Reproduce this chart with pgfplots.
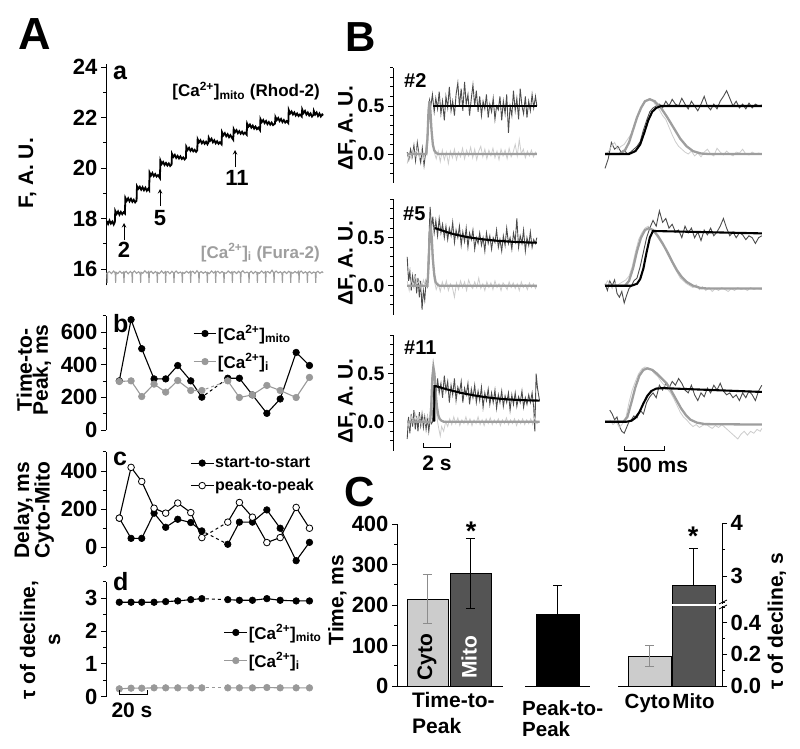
\documentclass[border=0pt]{standalone}
\usepackage{pgfplots}
\pgfplotsset{compat=1.18}
\usepackage{fontspec}
\setmainfont{Liberation Sans}
\newcommand{\fs}[1]{\fontsize{#1}{#1}\selectfont\bfseries}
\newcommand{\fsl}[2]{\fontsize{#1}{#2}\selectfont\bfseries}
\definecolor{cgray}{gray}{0.6}
\definecolor{fitgray}{gray}{0.62}
\definecolor{darktr}{gray}{0.3}
\definecolor{lighttr}{gray}{0.8}
\definecolor{lightbar}{gray}{0.8}
\definecolor{darkbar}{gray}{0.33}
\definecolor{furagray}{gray}{0.62}
\definecolor{errgray}{gray}{0.55}
\pgfplotsset{
  base/.style={scale only axis, tick align=outside, major tick length=5pt, minor tick length=3pt,
    every tick/.style={black, line width=0.9pt}, axis line style={line width=1pt, black},
    tick label style={font=\fs{22}}, /pgf/number format/assume math mode=true,
    xtick=\empty, xmin=0, xmax=157, width=220pt},
  Apanel/.style={base, axis x line=none, axis y line*=left, clip=false, anchor=south west},
  Bleft/.style={base, anchor=south west, axis x line=none, axis y line*=left, xmin=-1.05, xmax=9.85, width=147.2pt, height=115.2pt,
    ymin=-0.3, ymax=0.9, ytick={0,0.5}, minor ytick={-0.2,-0.1,0.1,0.2,0.3,0.4,0.6,0.7,0.8,0.9},
    tick label style={font=\fs{19.5}},
    yticklabel style={/pgf/number format/.cd, fixed, fixed zerofill, precision=1}, clip=false},
  Bright/.style={scale only axis, anchor=south west, axis lines=none, xmin=0, xmax=1960, width=156.8pt, height=115.2pt,
    ymin=-0.3, ymax=0.9, clip=false},
  dtr/.style={darktr, line width=0.9pt},
  ltr/.style={lighttr, line width=0.8pt},
  gfit/.style={fitgray, line width=2.3pt},
  bfit/.style={black, line width=2.1pt},
  blk/.style={black, line width=1.1pt, mark=*, mark size=3.3pt, mark options={solid, line width=0.6pt}},
  gry/.style={cgray, line width=1.1pt, mark=*, mark size=3.3pt, mark options={solid, line width=0.6pt}},
  opn/.style={black, line width=1.1pt, mark=*, mark size=3.3pt, mark options={solid, fill=white, line width=0.8pt}},
  dsh/.style={dashed, line width=1pt, forget plot, shorten >=4pt, shorten <=4pt},
  leg/.style 2 args={legend style={draw=none, fill=none, at={#1}, anchor=north west, font=\fs{17}, row sep=#2, inner sep=0pt, nodes={inner sep=1pt}}, legend cell align=left},
}
\begin{document}
\begin{tikzpicture}
\useasboundingbox (0,0) rectangle (800pt,-749pt);

% ---------------- A a
\begin{axis}[Apanel, at={(106pt,-285.4pt)}, height=221.4pt, ymin=15.35, ymax=24.12,
  ytick={16,18,20,22,24}, minor ytick={17,19,21,23}]
\addplot[furagray, line width=1.1pt] coordinates {
(0.5,15.86)(0.93,15.45)(1.23,15.86)(2.43,15.9)(3.93,15.82)(5.43,15.92)(6.58,15.84)
(6.88,15.45)(7.18,15.87)(8.38,15.82)(9.88,15.91)(11.38,15.83)(12.53,15.88)
(12.83,15.45)(13.13,15.85)(14.33,15.91)(15.83,15.81)(17.33,15.9)(18.48,15.84)
(18.78,15.45)(19.08,15.86)(20.28,15.92)(21.78,15.83)(23.28,15.89)(24.43,15.82)
(24.73,15.45)(25.03,15.87)(26.23,15.83)(27.73,15.93)(29.23,15.84)(30.38,15.9)
(30.68,15.45)(30.98,15.85)(32.18,15.91)(33.68,15.82)(35.18,15.9)(36.33,15.85)
(36.63,15.45)(36.93,15.86)(38.13,15.82)(39.63,15.92)(41.13,15.83)(42.28,15.89)
(42.58,15.45)(42.88,15.87)(44.08,15.9)(45.58,15.81)(47.08,15.91)(48.23,15.84)
(48.53,15.45)(48.83,15.85)(50.03,15.92)(51.53,15.83)(53.03,15.88)(54.18,15.82)
(54.48,15.45)(54.78,15.86)(55.98,15.83)(57.48,15.91)(58.98,15.84)(60.13,15.9)
(60.43,15.45)(60.73,15.87)(61.93,15.91)(63.43,15.82)(64.93,15.93)(66.08,15.85)
(66.38,15.45)(66.68,15.85)(67.88,15.9)(69.38,15.83)(70.88,15.89)(72.03,15.84)
(72.33,15.45)(72.63,15.86)(73.83,15.82)(75.33,15.92)(76.83,15.84)(77.98,15.9)
(78.28,15.45)(78.58,15.87)(79.78,15.91)(81.28,15.83)(82.78,15.9)(83.93,15.85)
(84.23,15.45)(84.53,15.85)(85.73,15.83)(87.23,15.92)(88.73,15.84)(89.88,15.89)
(90.18,15.45)(90.48,15.86)(91.68,15.9)(93.18,15.82)(94.68,15.91)(95.83,15.84)
(96.13,15.45)(96.43,15.87)(97.63,15.93)(99.13,15.84)(100.63,15.88)(101.78,15.83)
(102.08,15.45)(102.38,15.85)(103.58,15.91)(105.08,15.82)(106.58,15.9)(107.73,15.85)
(108.03,15.45)(108.33,15.86)(109.53,15.83)(111.03,15.92)(112.53,15.84)(113.68,15.89)
(113.98,15.45)(114.28,15.87)(115.48,15.9)(116.98,15.83)(118.48,15.95)(119.63,15.85)
(119.93,15.45)(120.23,15.86)(121.43,15.92)(122.93,15.84)(124.43,15.89)(125.58,15.83)
(125.88,15.45)(126.18,15.85)(127.38,15.9)(128.88,15.82)(130.38,15.91)(131.53,15.86)
(131.83,15.45)(132.13,15.87)(133.33,15.83)(134.83,15.9)(136.33,15.84)(137.48,15.91)
(137.78,15.45)(138.08,15.86)(139.28,15.92)(140.78,15.83)(142.28,15.89)(143.43,15.84)
(143.73,15.45)(144.03,15.85)(145.23,15.9)(146.73,15.82)(148.23,15.88)(149.38,15.85)
(149.68,15.45)(149.98,15.86)(151.18,15.91)(152.68,15.83)(154.18,15.89)(155,15.85)};
\addplot[black, line width=1.8pt] coordinates {
(0.5,17.9)(1.5,17.78)(2.5,17.92)(3.5,17.8)(4.5,17.88)(5.5,17.76)(6.3,17.85)
(6.6,18.3)(7.6,18.18)(8.6,18.28)(9.6,18.15)(10.6,18.26)(11.6,18.17)(12.6,18.25)(13.5,18.2)
(13.8,18.82)(14.8,18.7)(15.8,18.8)(16.8,18.68)(17.8,18.78)(18.8,18.66)(19.8,18.74)(20.8,18.64)(21.8,18.7)
(22.1,19.28)(23.1,19.18)(24.1,19.26)(25.1,19.14)(26.1,19.24)(27.1,19.12)(28.1,19.22)(29.1,19.1)(30.1,19.18)(30.8,19.12)
(31.1,19.82)(32.1,19.7)(33.1,19.8)(34.1,19.68)(35.1,19.76)(36.1,19.66)(37.1,19.72)(38.5,19.6)
(38.8,20.3)(39.8,20.16)(40.8,20.24)(41.8,20.12)(42.8,20.2)(43.8,20.1)(44.8,20.18)(45.8,20.08)(46.8,20.14)
(47.1,20.56)(48.1,20.44)(49.1,20.52)(50.1,20.4)(51.1,20.48)(52.1,20.38)(53.1,20.46)(54.1,20.36)(55.1,20.42)(56.1,20.34)(57,20.4)
(57.3,20.84)(58.3,20.72)(59.3,20.8)(60.3,20.68)(61.3,20.76)(62.3,20.66)(63.3,20.72)(64.3,20.64)(65.1,20.7)
(65.4,21.14)(66.4,21.02)(67.4,21.1)(68.4,20.98)(69.4,21.06)(70.4,20.96)(71.4,21.04)(72.4,20.94)(73,21.0)
(73.3,21.2)(74.3,21.08)(75.3,21.16)(76.3,21.02)(77.3,21.1)(78.3,20.98)(79.3,21.06)(80.3,20.96)(81.3,21.02)(82.5,20.94)
(82.8,21.42)(83.8,21.3)(84.8,21.38)(85.8,21.26)(86.8,21.34)(87.8,21.22)(88.8,21.3)(89.8,21.2)(90.8,21.12)
(91.1,21.54)(92.1,21.42)(93.1,21.5)(94.1,21.38)(95.1,21.46)(96.1,21.36)(97.1,21.44)(98.1,21.34)(99.1,21.4)(100.4,21.32)
(100.7,21.76)(101.7,21.64)(102.7,21.72)(103.7,21.6)(104.7,21.68)(105.7,21.56)(106.7,21.64)(107.7,21.54)(108.7,21.6)(109.9,21.5)
(110.2,21.94)(111.2,21.82)(112.2,21.9)(113.2,21.78)(114.2,21.86)(115.2,21.74)(116.2,21.82)(117.2,21.72)(118.2,21.8)(119.2,21.7)(120.6,21.76)
(120.9,22.02)(121.9,21.9)(122.9,21.98)(123.9,21.86)(124.9,21.94)(125.9,21.82)(126.9,21.9)(127.9,21.8)(128.9,21.86)(130.1,21.78)
(130.4,22.3)(131.4,22.16)(132.4,22.24)(133.4,22.12)(134.4,22.2)(135.4,22.08)(136.4,22.16)(137.4,22.06)(138.4,22.12)(139.7,22.04)
(140,22.32)(141,22.18)(142,22.26)(143,22.12)(144,22.2)(145,22.08)(146,22.16)(147,22.04)(148,22.1)
(148.3,22.26)(149.3,22.12)(150.3,22.2)(151.3,22.06)(152.3,22.16)(153.3,22.04)(154.3,22.12)(155,22.08)};
\end{axis}

% ---------------- A b
\begin{axis}[Apanel, at={(106pt,-430pt)}, height=114.3pt, ymin=0, ymax=700,
  ytick={0,200,400,600}, minor ytick={100,300,500,700}, leg={(0.395,0.925)}{10pt},
  legend image code/.code={\draw[mark repeat=2,mark phase=2,#1] plot coordinates {(0cm,0cm) (0.4cm,0cm) (0.8cm,0cm)};}]
\addplot[blk] coordinates {(9.5,301)(17.9,676)(25.5,498)(34.3,313)(42.6,313)(51.2,395)(60.5,301)(68.4,201)};
\addlegendentry{[Ca\textsuperscript{2+}]\textsubscript{mito}}
\addplot[gry] coordinates {(9.5,297)(17.9,301)(25.5,205)(34.3,281)(42.6,232)(51.2,303)(60.5,242)(68.4,242)};
\addlegendentry{[Ca\textsuperscript{2+}]\textsubscript{i}}
\addplot[blk, forget plot] coordinates {(86.9,317)(95.2,317)(104.5,215)(114.8,102)(124.3,190)(135.7,475)(145.2,395)};
\addplot[gry, forget plot] coordinates {(86.9,301)(95.2,199)(104.5,215)(114.8,273)(124.3,242)(135.7,199)(145.2,322)};
\addplot[black, dsh] coordinates {(68.4,201)(86.9,317)};
\addplot[cgray, dsh] coordinates {(68.4,242)(86.9,301)};
\end{axis}

% ---------------- A c
\begin{axis}[Apanel, at={(106pt,-566.4pt)}, height=114.5pt, ymin=-100, ymax=500,
  ytick={0,200,400}, minor ytick={-100,100,300,500}, leg={(0.382,0.965)}{8pt},
  legend style={font=\fs{16}},
  legend image code/.code={\draw[mark repeat=2,mark phase=2,#1] plot coordinates {(0cm,0cm) (0.4cm,0cm) (0.8cm,0cm)};}]
\addplot[blk] coordinates {(9.5,153)(17.9,47)(25.5,47)(34.3,179)(42.6,105)(51.2,147)(60.5,130)(68.4,86)};
\addlegendentry{start-to-start}
\addplot[opn] coordinates {(9.5,153)(17.9,419)(25.5,345)(34.3,205)(42.6,179)(51.2,232)(60.5,182)(68.4,51)};
\addlegendentry{peak-to-peak}
\addplot[blk, forget plot] coordinates {(86.9,16)(95.2,132)(104.5,132)(114.8,196)(124.3,100)(135.7,-70)(145.2,26)};
\addplot[opn, forget plot] coordinates {(86.9,132)(95.2,235)(104.5,158)(114.8,25)(124.3,51)(135.7,209)(145.2,100)};
\addplot[black, dsh] coordinates {(68.4,86)(86.9,16)};
\addplot[black, dsh] coordinates {(68.4,51)(86.9,132)};
\end{axis}

% ---------------- A d
\begin{axis}[Apanel, at={(106pt,-696.7pt)}, height=114.8pt, ymin=0, ymax=3.5,
  ytick={0,1,2,3}, minor ytick={0.5,1.5,2.5,3.5}, leg={(0.535,0.64)}{10pt},
  legend image code/.code={\draw[mark repeat=2,mark phase=2,#1] plot coordinates {(0cm,0cm) (0.4cm,0cm) (0.8cm,0cm)};}]
\addplot[blk] coordinates {(9.5,2.88)(17.9,2.88)(25.5,2.88)(34.3,2.88)(42.6,2.9)(51.2,2.92)(60.5,2.96)(68.4,2.99)};
\addlegendentry{[Ca\textsuperscript{2+}]\textsubscript{mito}}
\addplot[gry] coordinates {(9.5,0.24)(17.9,0.26)(25.5,0.26)(34.3,0.27)(42.6,0.27)(51.2,0.27)(60.5,0.27)(68.4,0.27)};
\addlegendentry{[Ca\textsuperscript{2+}]\textsubscript{i}}
\addplot[blk, forget plot] coordinates {(86.9,2.96)(95.2,2.94)(104.5,2.94)(114.8,2.99)(124.3,2.94)(135.7,2.92)(145.2,2.92)};
\addplot[gry, forget plot] coordinates {(86.9,0.27)(95.2,0.27)(104.5,0.27)(114.8,0.28)(124.3,0.27)(135.7,0.27)(145.2,0.27)};
\addplot[black, dsh] coordinates {(68.4,2.99)(86.9,2.96)};
\addplot[cgray, dsh] coordinates {(68.4,0.27)(86.9,0.27)};
\end{axis}

% ---------------- B row 1
\begin{axis}[Bleft, at={(393pt,-182.8pt)}]
\addplot[dtr] coordinates {(0,0.02)(0.12,-0.06)(0.25,0.05)(0.37,-0.03)(0.5,0.09)(0.62,-0.07)(0.75,0.12)(0.87,0.0)(1.0,-0.09)(1.12,0.06)(1.25,-0.12)(1.37,0.02)(1.45,0.0)(1.55,0.3)(1.65,0.56)(1.75,0.5)(1.87,0.62)(2.0,0.44)(2.12,0.58)(2.25,0.47)(2.37,0.65)(2.5,0.42)(2.62,0.55)(2.75,0.35)(2.87,0.6)(3.0,0.48)(3.12,0.7)(3.25,0.45)(3.37,0.55)(3.5,0.4)(3.62,0.62)(3.75,0.74)(3.87,0.5)(4.0,0.68)(4.12,0.45)(4.25,0.75)(4.37,0.52)(4.5,0.62)(4.62,0.4)(4.75,0.58)(4.87,0.72)(5.0,0.5)(5.12,0.66)(5.25,0.44)(5.37,0.6)(5.5,0.4)(5.62,0.55)(5.75,0.47)(5.87,0.62)(6.0,0.38)(6.12,0.52)(6.25,0.44)(6.37,0.58)(6.5,0.36)(6.62,0.5)(6.75,0.46)(6.87,0.6)(7.0,0.35)(7.12,0.55)(7.25,0.42)(7.37,0.62)(7.5,0.22)(7.62,0.5)(7.75,0.4)(7.87,0.66)(8.0,0.45)(8.12,0.58)(8.25,0.36)(8.37,0.68)(8.5,0.5)(8.62,0.42)(8.75,0.6)(8.87,0.38)(9.0,0.55)(9.12,0.45)(9.25,0.62)(9.37,0.48)(9.5,0.6)(9.6,0.5)};
\addplot[ltr] coordinates {(0,-0.1)(0.15,0.0)(0.3,-0.05)(0.45,0.04)(0.6,-0.02)(0.75,0.06)(0.9,-0.04)(1.05,0.03)(1.2,-0.06)(1.35,0.02)(1.5,0.25)(1.62,0.55)(1.75,0.4)(1.87,0.15)(2.0,0.02)(2.15,-0.05)(2.3,0.03)(2.45,-0.08)(2.6,0.04)(2.75,-0.06)(2.9,0.02)(3.05,-0.1)(3.2,0.03)(3.35,-0.04)(3.5,0.05)(3.65,-0.06)(3.8,0.02)(3.95,-0.03)(4.1,0.06)(4.25,-0.05)(4.4,0.04)(4.55,-0.02)(4.7,0.07)(4.85,-0.04)(5.0,0.05)(5.15,-0.06)(5.3,0.03)(5.45,0.08)(5.6,-0.03)(5.75,0.05)(5.9,-0.05)(6.05,0.04)(6.2,-0.02)(6.35,0.06)(6.5,-0.04)(6.65,0.03)(6.8,-0.06)(6.95,0.05)(7.1,-0.02)(7.25,0.04)(7.4,-0.05)(7.55,0.06)(7.7,-0.03)(7.85,0.02)(8.0,0.1)(8.15,-0.02)(8.3,0.15)(8.45,0.0)(8.6,0.05)(8.75,-0.04)(8.9,0.03)(9.05,-0.02)(9.2,0.04)(9.35,-0.03)(9.5,0.02)(9.6,0.0)};
\addplot[gfit] coordinates {(0,0)(1.4,0)(1.5,0.15)(1.58,0.45)(1.65,0.55)(1.72,0.45)(1.8,0.25)(1.9,0.1)(2.0,0.04)(2.15,0.01)(2.3,0)(9.6,0)};
\addplot[bfit] coordinates {(1.9,0.5)(9.6,0.5)};
\end{axis}
\begin{axis}[Bright, at={(605pt,-182.8pt)}]
\addplot[dtr] coordinates {(0,-0.15)(40,-0.05)(80,0.12)(120,0.05)(160,0.08)(200,0.02)(240,0.04)(280,0.0)(320,0.02)(360,0.05)(400,0.08)(440,0.13)(480,0.25)(520,0.35)(560,0.44)(600,0.48)(640,0.5)(680,0.52)(720,0.48)(760,0.55)(800,0.5)(840,0.57)(880,0.52)(920,0.5)(960,0.58)(1000,0.52)(1040,0.47)(1080,0.55)(1120,0.5)(1160,0.45)(1200,0.52)(1240,0.6)(1280,0.5)(1320,0.46)(1360,0.52)(1400,0.47)(1440,0.55)(1480,0.6)(1520,0.66)(1560,0.58)(1600,0.5)(1640,0.55)(1680,0.48)(1720,0.52)(1760,0.47)(1800,0.53)(1840,0.48)(1880,0.52)(1920,0.5)(1960,0.51)};
\addplot[ltr] coordinates {(0,0)(40,0.02)(80,0.08)(120,0.12)(160,0.05)(200,0.08)(240,0.1)(280,0.15)(320,0.2)(360,0.28)(400,0.38)(440,0.45)(480,0.52)(520,0.56)(560,0.58)(600,0.55)(640,0.5)(680,0.46)(720,0.4)(760,0.36)(800,0.28)(840,0.2)(880,0.13)(920,0.08)(960,0.05)(1000,0.02)(1040,0.0)(1080,0.03)(1120,-0.02)(1160,0.01)(1200,-0.03)(1240,0.02)(1280,0.05)(1320,0.0)(1360,-0.02)(1400,0.06)(1440,0.02)(1480,-0.01)(1520,0.03)(1560,0.0)(1600,-0.02)(1640,0.02)(1680,0.01)(1720,0.05)(1760,0.0)(1800,-0.01)(1840,0.02)(1880,0.0)(1920,0.01)(1960,0)};
\addplot[gfit] coordinates {(0,0)(180,0)(250,0.04)(300,0.12)(350,0.25)(400,0.38)(450,0.48)(500,0.55)(560,0.57)(620,0.55)(700,0.48)(780,0.38)(860,0.27)(940,0.16)(1020,0.08)(1100,0.03)(1200,0.005)(1300,0)(1960,0)};
\addplot[bfit] coordinates {(0,0)(300,0)(380,0.03)(440,0.1)(490,0.22)(540,0.35)(590,0.44)(640,0.48)(700,0.5)(1960,0.5)};
\end{axis}

% ---------------- B row 2
\begin{axis}[Bleft, at={(393pt,-314.5pt)}]
\addplot[dtr] coordinates {(0,0.3)(0.1,0.05)(0.2,0.15)(0.3,-0.05)(0.4,0.1)(0.5,0.0)(0.6,0.12)(0.7,-0.08)(0.8,0.08)(0.9,-0.12)(1.0,0.05)(1.1,-0.25)(1.2,-0.05)(1.3,-0.15)(1.4,0.05)(1.5,0.0)(1.6,0.45)(1.7,0.82)(1.8,0.6)(1.9,0.72)(2.0,0.55)(2.12,0.68)(2.25,0.52)(2.37,0.7)(2.5,0.55)(2.62,0.64)(2.75,0.5)(2.87,0.62)(3.0,0.48)(3.12,0.6)(3.25,0.52)(3.37,0.66)(3.5,0.45)(3.62,0.58)(3.75,0.5)(3.87,0.62)(4.0,0.42)(4.12,0.56)(4.25,0.46)(4.37,0.6)(4.5,0.4)(4.62,0.55)(4.75,0.48)(4.87,0.58)(5.0,0.38)(5.12,0.5)(5.25,0.44)(5.37,0.55)(5.5,0.42)(5.62,0.5)(5.75,0.36)(5.87,0.55)(6.0,0.44)(6.12,0.52)(6.25,0.38)(6.37,0.5)(6.5,0.45)(6.62,0.58)(6.75,0.4)(6.87,0.48)(7.0,0.36)(7.12,0.52)(7.25,0.42)(7.37,0.6)(7.5,0.44)(7.62,0.5)(7.75,0.38)(7.87,0.55)(8.0,0.46)(8.12,0.7)(8.25,0.4)(8.37,0.52)(8.5,0.44)(8.62,0.58)(8.75,0.36)(8.87,0.5)(9.0,0.42)(9.12,0.56)(9.25,0.4)(9.37,0.48)(9.5,0.44)(9.6,0.5)};
\addplot[ltr] coordinates {(0,0.05)(0.15,-0.05)(0.3,0.08)(0.45,0.0)(0.6,0.1)(0.75,0.02)(0.9,0.05)(1.05,-0.05)(1.2,0.06)(1.35,0.0)(1.5,0.05)(1.6,0.4)(1.72,0.62)(1.85,0.3)(2.0,0.06)(2.15,-0.04)(2.3,0.02)(2.45,-0.06)(2.6,0.04)(2.75,-0.03)(2.9,0.05)(3.05,-0.05)(3.2,0.02)(3.35,-0.02)(3.5,-0.12)(3.65,0.03)(3.8,-0.04)(3.95,0.05)(4.1,-0.02)(4.25,0.04)(4.4,-0.05)(4.55,0.06)(4.7,0.0)(4.85,-0.03)(5.0,0.04)(5.15,-0.02)(5.3,0.08)(5.45,-0.03)(5.6,0.02)(5.75,-0.05)(5.9,0.04)(6.05,-0.02)(6.2,0.03)(6.35,-0.04)(6.5,0.05)(6.65,-0.02)(6.8,0.02)(6.95,-0.05)(7.1,0.03)(7.25,0.0)(7.4,-0.04)(7.55,0.04)(7.7,-0.02)(7.85,0.03)(8.0,-0.03)(8.15,0.02)(8.3,-0.05)(8.45,0.04)(8.6,-0.02)(8.75,0.01)(8.9,-0.04)(9.05,0.03)(9.2,-0.02)(9.35,0.02)(9.5,-0.03)(9.6,0.0)};
\addplot[gfit] coordinates {(0,0)(1.5,0)(1.58,0.2)(1.66,0.52)(1.74,0.62)(1.82,0.5)(1.9,0.28)(2.0,0.12)(2.1,0.04)(2.25,0.01)(2.4,0)(9.6,0)};
\addplot[bfit] coordinates {(2.05,0.6)(2.5,0.58)(3,0.555)(3.5,0.535)(4,0.52)(4.5,0.505)(5,0.495)(5.5,0.485)(6,0.477)(6.5,0.47)(7,0.465)(7.5,0.46)(8,0.456)(8.5,0.453)(9,0.45)(9.6,0.448)};
\end{axis}
\begin{axis}[Bright, at={(605pt,-314.5pt)}]
\addplot[dtr] coordinates {(0,0.02)(30,-0.05)(60,0.05)(90,0.0)(120,0.06)(150,-0.08)(180,-0.12)(210,-0.06)(240,-0.18)(270,-0.1)(300,-0.03)(330,0.0)(360,0.05)(400,0.08)(440,0.2)(480,0.35)(520,0.5)(560,0.6)(600,0.68)(640,0.62)(680,0.78)(720,0.66)(760,0.7)(800,0.6)(840,0.64)(880,0.56)(920,0.58)(960,0.5)(1000,0.62)(1040,0.55)(1080,0.6)(1120,0.5)(1160,0.56)(1200,0.47)(1240,0.58)(1280,0.53)(1320,0.6)(1360,0.52)(1400,0.56)(1440,0.62)(1480,0.7)(1520,0.6)(1560,0.52)(1600,0.56)(1640,0.5)(1680,0.55)(1720,0.53)(1760,0.48)(1800,0.52)(1840,0.5)(1880,0.44)(1920,0.5)(1960,0.52)};
\addplot[ltr] coordinates {(0,0.0)(30,0.05)(60,0.02)(90,-0.03)(120,0.03)(150,0.0)(180,0.02)(220,0.04)(260,0.06)(300,0.1)(340,0.2)(380,0.35)(420,0.48)(460,0.55)(500,0.6)(540,0.62)(580,0.58)(620,0.55)(660,0.5)(700,0.45)(740,0.4)(780,0.33)(820,0.27)(860,0.2)(900,0.14)(940,0.08)(980,0.05)(1020,0.02)(1060,0.0)(1100,-0.02)(1140,0.01)(1180,-0.04)(1220,-0.01)(1260,-0.05)(1300,-0.02)(1340,-0.06)(1380,-0.03)(1420,-0.05)(1460,-0.02)(1500,-0.04)(1540,-0.06)(1580,-0.03)(1620,-0.05)(1660,-0.02)(1700,-0.04)(1740,-0.03)(1780,-0.05)(1820,-0.02)(1860,-0.04)(1900,-0.03)(1960,-0.04)};
\addplot[gfit] coordinates {(0,0)(250,0)(300,0.05)(350,0.18)(400,0.36)(450,0.5)(500,0.58)(550,0.6)(600,0.58)(660,0.52)(720,0.44)(780,0.35)(840,0.25)(900,0.16)(960,0.09)(1020,0.04)(1100,0.0)(1200,-0.025)(1300,-0.03)(1960,-0.03)};
\addplot[bfit] coordinates {(0,0)(330,0)(400,0.02)(440,0.07)(480,0.18)(520,0.35)(560,0.5)(600,0.57)(1960,0.545)};
\end{axis}

% ---------------- B row 3
\begin{axis}[Bleft, at={(393pt,-450.5pt)}]
\addplot[dtr] coordinates {(0,-0.18)(0.1,0.05)(0.2,-0.12)(0.3,0.08)(0.4,-0.05)(0.5,0.12)(0.6,-0.08)(0.7,0.06)(0.8,-0.1)(0.9,0.1)(1.0,-0.04)(1.1,0.08)(1.2,-0.06)(1.3,0.05)(1.4,-0.08)(1.5,0.04)(1.6,-0.1)(1.7,0.02)(1.8,-0.02)(1.88,0.0)(1.95,0.3)(2.05,0.37)(2.15,0.28)(2.25,0.45)(2.37,0.3)(2.5,0.4)(2.62,0.25)(2.75,0.48)(2.87,0.32)(3.0,0.42)(3.12,0.2)(3.25,0.38)(3.37,0.28)(3.5,0.45)(3.62,0.22)(3.75,0.36)(3.87,0.3)(4.0,0.42)(4.12,0.2)(4.25,0.35)(4.37,0.28)(4.5,0.4)(4.62,0.18)(4.75,0.34)(4.87,0.25)(5.0,0.38)(5.12,0.2)(5.25,0.32)(5.37,0.22)(5.5,0.36)(5.62,0.15)(5.75,0.3)(5.87,0.22)(6.0,0.34)(6.12,0.18)(6.25,0.3)(6.37,0.2)(6.5,0.33)(6.62,0.14)(6.75,0.28)(6.87,0.2)(7.0,0.32)(7.12,0.16)(7.25,0.27)(7.37,0.2)(7.5,0.3)(7.62,0.12)(7.75,0.28)(7.87,0.18)(8.0,0.3)(8.12,0.16)(8.25,0.26)(8.37,0.2)(8.5,0.32)(8.62,0.15)(8.75,0.25)(8.87,0.18)(9.0,0.28)(9.12,0.2)(9.25,0.3)(9.37,0.15)(9.45,-0.1)(9.55,0.5)(9.65,0.35)(9.8,0.22)};
\addplot[ltr] coordinates {(0,0.02)(0.15,-0.05)(0.3,0.06)(0.45,-0.02)(0.6,0.08)(0.75,0.0)(0.9,0.05)(1.05,-0.04)(1.2,0.04)(1.35,-0.02)(1.5,0.06)(1.65,0.0)(1.75,0.2)(1.85,0.5)(1.95,0.55)(2.05,0.35)(2.15,0.12)(2.25,0.0)(2.35,-0.08)(2.45,-0.15)(2.55,-0.05)(2.7,-0.1)(2.85,0.0)(3.0,-0.05)(3.15,0.03)(3.3,-0.03)(3.45,0.05)(3.6,-0.02)(3.75,0.04)(3.9,-0.04)(4.05,0.02)(4.2,-0.02)(4.35,0.05)(4.5,-0.03)(4.65,0.03)(4.8,-0.04)(4.95,0.02)(5.1,-0.02)(5.25,0.05)(5.4,-0.03)(5.55,0.02)(5.7,-0.04)(5.85,0.03)(6.0,-0.02)(6.15,0.04)(6.3,-0.03)(6.45,0.02)(6.6,-0.02)(6.75,0.03)(6.9,-0.04)(7.05,0.02)(7.2,-0.02)(7.35,0.04)(7.5,-0.03)(7.65,0.02)(7.8,-0.02)(7.95,0.03)(8.1,-0.04)(8.25,0.02)(8.4,-0.02)(8.55,0.03)(8.7,-0.03)(8.85,0.02)(9.0,-0.02)(9.15,0.03)(9.3,-0.03)(9.45,0.05)(9.6,-0.02)(9.8,0.0)};
\addplot[gfit] coordinates {(0,0)(1.7,0)(1.78,0.15)(1.86,0.45)(1.94,0.57)(2.02,0.5)(2.1,0.32)(2.2,0.16)(2.3,0.07)(2.4,0.03)(2.55,0.01)(2.7,0)(9.8,0)};
\addplot[bfit] coordinates {(2.0,0)(2.02,0.37)(2.15,0.37)(2.5,0.355)(3,0.335)(3.5,0.317)(4,0.3)(4.5,0.286)(5,0.273)(5.5,0.262)(6,0.252)(6.5,0.244)(7,0.237)(7.5,0.232)(8,0.228)(8.5,0.225)(9,0.222)(9.8,0.22)};
\end{axis}
\begin{axis}[Bright, at={(605pt,-450.5pt)}]
\addplot[dtr] coordinates {(60,0.12)(90,0.08)(120,0.02)(150,0.05)(180,-0.05)(210,-0.1)(240,-0.12)(270,-0.06)(300,0.0)(330,0.02)(360,0.06)(400,0.04)(440,0.12)(480,0.08)(520,0.2)(560,0.26)(600,0.3)(640,0.25)(680,0.38)(720,0.33)(760,0.4)(800,0.35)(840,0.42)(880,0.38)(920,0.45)(960,0.4)(1000,0.33)(1040,0.3)(1080,0.38)(1120,0.28)(1160,0.22)(1200,0.3)(1240,0.26)(1280,0.35)(1320,0.3)(1360,0.38)(1400,0.33)(1440,0.4)(1480,0.32)(1520,0.28)(1560,0.3)(1600,0.25)(1640,0.28)(1680,0.22)(1720,0.3)(1760,0.25)(1800,0.32)(1840,0.28)(1880,0.22)(1920,0.32)(1960,0.38)};
\addplot[ltr] coordinates {(60,0.02)(100,-0.03)(140,0.0)(180,-0.06)(220,-0.02)(260,0.04)(300,0.2)(340,0.33)(380,0.42)(420,0.5)(460,0.55)(500,0.57)(540,0.56)(580,0.54)(620,0.5)(660,0.47)(700,0.42)(740,0.38)(780,0.34)(820,0.3)(860,0.24)(900,0.17)(940,0.1)(980,0.05)(1020,0.02)(1060,-0.02)(1100,-0.05)(1140,-0.03)(1180,-0.06)(1220,-0.04)(1260,-0.02)(1300,-0.05)(1340,-0.07)(1380,-0.04)(1420,-0.06)(1460,-0.03)(1500,-0.06)(1540,-0.09)(1580,-0.12)(1620,-0.15)(1660,-0.18)(1700,-0.13)(1740,-0.1)(1780,-0.14)(1820,-0.1)(1860,-0.12)(1900,-0.08)(1940,-0.1)(1960,-0.07)};
\addplot[gfit] coordinates {(0,0)(230,0)(280,0.05)(330,0.2)(380,0.36)(430,0.48)(480,0.54)(530,0.555)(590,0.54)(650,0.5)(710,0.45)(770,0.4)(830,0.32)(890,0.23)(950,0.14)(1010,0.07)(1070,0.02)(1150,-0.01)(1250,-0.025)(1960,-0.03)};
\addplot[bfit] coordinates {(0,0)(270,0)(330,0.01)(380,0.04)(430,0.1)(480,0.19)(530,0.27)(580,0.32)(640,0.345)(720,0.35)(1960,0.31)};
\end{axis}

% ---------------- C left
\begin{axis}[base, anchor=south west, at={(397pt,-686pt)}, width=106pt, height=162pt, xmin=0.291, xmax=2.756,
  ymin=0, ymax=400, axis x line*=bottom, axis y line*=left, ytick={0,100,200,300,400}, minor ytick={50,150,250,350}, clip=false]
\addplot[ybar, bar width=41pt, fill=lightbar, draw=black, line width=0.8pt,
  error bars/.cd, y dir=both, y explicit, error bar style={errgray, line width=1pt},
  error mark options={errgray, line width=1pt, mark size=4.5pt, rotate=90}] coordinates {(1,215) +- (0,60)};
\addplot[ybar, bar width=41pt, fill=darkbar, draw=black, line width=0.8pt,
  error bars/.cd, y dir=both, y explicit, error bar style={black, line width=1pt},
  error mark options={black, line width=1pt, mark size=4.5pt, rotate=90}] coordinates {(2,278) +- (0,87)};
\end{axis}
% ---------------- C middle
\begin{axis}[base, anchor=south west, at={(525pt,-686pt)}, width=65pt, height=162pt, xmin=0.244, xmax=1.756,
  ymin=0, ymax=400, axis x line*=bottom, axis y line=none, ytick=\empty, clip=false]
\addplot[ybar, bar width=43pt, fill=black, draw=black, line width=0.8pt,
  error bars/.cd, y dir=plus, y explicit, error bar style={black, line width=1pt},
  error mark options={black, line width=1pt, mark size=4.5pt, rotate=90}] coordinates {(1,177) +- (0,72)};
\end{axis}
% ---------------- C right lower
\begin{axis}[base, anchor=south west, at={(618pt,-686pt)}, width=104pt, height=81pt, xmin=0.284, xmax=2.648,
  ymin=0, ymax=0.5127, axis x line*=bottom, axis y line*=right, ytick={0,0.2,0.4}, minor ytick={0.1,0.3,0.5},
  yticklabel style={/pgf/number format/.cd, fixed, fixed zerofill, precision=1}]
\addplot[ybar, bar width=43pt, fill=lightbar, draw=black, line width=0.8pt,
  error bars/.cd, y dir=both, y explicit, error bar style={errgray, line width=1pt},
  error mark options={errgray, line width=1pt, mark size=4.5pt, rotate=90}] coordinates {(1,0.19) +- (0,0.065)};
\addplot[ybar, bar width=43pt, fill=darkbar, draw=black, line width=0.8pt] coordinates {(2,2.83)};
\end{axis}
% ---------------- C right upper
\begin{axis}[base, anchor=south west, at={(618pt,-605pt)}, width=104pt, height=81.7pt, xmin=0.284, xmax=2.648,
  ymin=2.45, ymax=4, axis x line=none, axis y line*=right, ytick={3,4}, minor ytick={2.5,3.5}]
\addplot[ybar, bar width=43pt, fill=darkbar, draw=black, line width=0.8pt,
  error bars/.cd, y dir=plus, y explicit, error bar style={black, line width=1pt},
  error mark options={black, line width=1pt, mark size=4.5pt, rotate=90}] coordinates {(2,2.83) +- (0,0.7)};
\end{axis}
\draw[white, line width=2.5pt] (671pt,-605pt) -- (728pt,-605pt);
\draw[black, line width=0.8pt] (719pt,-604pt) -- (727pt,-600pt);
\draw[black, line width=0.8pt] (719pt,-609pt) -- (727pt,-605pt);

% ---------------- texts
\node[font=\fs{45}] at (35pt,-34pt) {A};
\node[font=\fs{42}] at (361pt,-37pt) {B};
\node[font=\fs{42}] at (360pt,-492pt) {C};
\node[font=\fs{25}, anchor=base west, inner sep=0pt] at (113pt,-80pt) {a};
\node[font=\fs{25}, anchor=base west, inner sep=0pt] at (113pt,-332pt) {b};
\node[font=\fs{25}, anchor=base west, inner sep=0pt] at (113pt,-465pt) {c};
\node[font=\fs{25}, anchor=base west, inner sep=0pt] at (113pt,-590pt) {d};

\node[rotate=90, font=\fs{21}] at (27.5pt,-173pt) {F, A. U.};
\node[rotate=90, font=\fsl{21}{16}, align=center] at (34pt,-370pt) {Time-to-\\Peak, ms};
\node[rotate=90, font=\fsl{21}{16}, align=center] at (34pt,-510pt) {Delay, ms\\Cyto-Mito};
\node[rotate=90, font=\fsl{21}{25}, align=center] at (40pt,-640pt) {τ of decline,\\s};

\node[font=\fs{17}, anchor=base east, inner sep=0pt] at (320pt,-97pt) {[Ca\textsuperscript{2+}]\textsubscript{mito} (Rhod-2)};
\node[font=\fs{17}, anchor=base east, inner sep=0pt, text=furagray] at (320pt,-258pt) {[Ca\textsuperscript{2+}]\textsubscript{i} (Fura-2)};
\draw[-stealth, line width=1pt] (124pt,-240pt) -- (124pt,-223pt);
\draw[-stealth, line width=1pt] (160pt,-206pt) -- (160pt,-189pt);
\draw[-stealth, line width=1pt] (235pt,-167pt) -- (235pt,-150pt);
\node[font=\fs{22}] at (124pt,-250pt) {2};
\node[font=\fs{22}] at (160pt,-218pt) {5};
\node[font=\fs{22}] at (237pt,-177.5pt) {11};

\draw[line width=1pt] (119pt,-690pt) -- (119pt,-694pt) -- (147pt,-694pt) -- (147pt,-690pt);
\node[font=\fs{21}] at (132pt,-710pt) {20 s};

\node[font=\fs{20}, anchor=base west, inner sep=0pt] at (404pt,-88pt) {\#2};
\node[font=\fs{20}, anchor=base west, inner sep=0pt] at (403pt,-220pt) {\#5};
\node[font=\fs{20}, anchor=base west, inner sep=0pt] at (404pt,-354pt) {\#11};
\node[rotate=90, font=\fs{21}] at (347pt,-128pt) {ΔF, A. U.};
\node[rotate=90, font=\fs{21}] at (347pt,-263pt) {ΔF, A. U.};
\node[rotate=90, font=\fs{21}] at (347pt,-401pt) {ΔF, A. U.};
\draw[line width=1pt] (423pt,-443pt) -- (423pt,-447pt) -- (450pt,-447pt) -- (450pt,-443pt);
\node[font=\fs{21}] at (437pt,-463.5pt) {2 s};
\draw[line width=1pt] (624pt,-446pt) -- (624pt,-450pt) -- (664pt,-450pt) -- (664pt,-446pt);
\node[font=\fs{21}] at (652.5pt,-465.5pt) {500 ms};

\node[rotate=90, font=\fs{21}] at (337.5pt,-600pt) {Time, ms};
\node[rotate=90, font=\fs{21}] at (777pt,-621pt) {τ of decline, s};
\node[rotate=90, font=\fs{21}] at (427pt,-657pt) {Cyto};
\node[rotate=90, font=\fs{21}, text=white] at (469pt,-657pt) {Mito};
\node[font=\fs{27}, anchor=base] at (471pt,-540pt) {*};
\node[font=\fs{27}, anchor=base] at (693pt,-545pt) {*};
\node[font=\fs{21}, anchor=base west, inner sep=0pt] at (412pt,-707pt) {Time-to-};
\node[font=\fs{21}, anchor=base west, inner sep=0pt] at (412pt,-733pt) {Peak};
\node[font=\fs{20.5}, anchor=base west, inner sep=0pt] at (522pt,-715pt) {Peak-to-};
\node[font=\fs{20.5}, anchor=base west, inner sep=0pt] at (522pt,-736pt) {Peak};
\node[font=\fs{20.5}, anchor=base, inner sep=0pt] at (647.5pt,-708pt) {Cyto};
\node[font=\fs{20.5}, anchor=base, inner sep=0pt] at (693.5pt,-708pt) {Mito};
\end{tikzpicture}
\end{document}
